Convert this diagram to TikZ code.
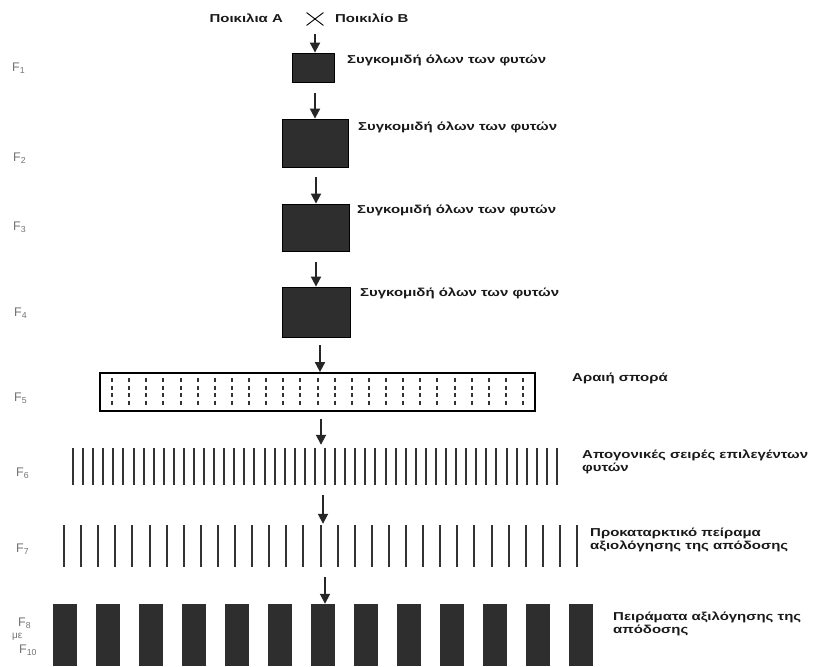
\documentclass[tikz,border=0pt]{standalone}
\usepackage{fontspec}
\setmainfont{Liberation Sans}
\newfontfamily\gkb[FakeStretch=1.3]{Liberation Sans}
\usetikzlibrary{arrows.meta,shapes.misc}
\tikzset{
  darkbox/.style={draw=black, fill=black!82, line width=0.8pt, inner sep=0pt},
  arr/.style={line width=1.8pt, draw=black!85, -{Triangle[length=10pt,width=10pt]}},
  lab/.style={font=\gkb\bfseries\fontsize{11.5}{13}\selectfont, anchor=west, inner sep=0pt, align=left, text=black!90},
  gen/.style={font=\fontsize{12.5}{13}\selectfont, text=black!55, anchor=west, inner sep=0pt},
  rowarea/.style={inner sep=0pt, draw=none},
  thinrow/.style={line width=2pt, draw=black!80},
  seedcol/.style={line width=2pt, draw=black!80, dash pattern=on 4pt off 3.5pt}
}
\begin{document}
\begin{tikzpicture}[x=1pt,y=-1pt]
\useasboundingbox (0,0) rectangle (813,666);

% parents
\node[lab, anchor=east] (pa) at (283,18) {Ποικιλια Α};
\node[draw, cross out, line width=0.9pt, minimum width=16pt, minimum height=12pt, inner sep=0pt] (cx) at (315,19) {};
\node[lab] (pb) at (335,18) {Ποικιλίο Β};

% boxes F1-F4
\node[darkbox, minimum width=42pt, minimum height=29pt] (b1) at (313,67.5) {};
\node[darkbox, minimum width=66pt, minimum height=48pt] (b2) at (315,143) {};
\node[darkbox, minimum width=67pt, minimum height=47pt] (b3) at (316,227.5) {};
\node[darkbox, minimum width=68pt, minimum height=50pt] (b4) at (316,312) {};

% F5 box
\node[draw=black, line width=1.8pt, minimum width=435pt, minimum height=38pt, inner sep=0pt] (b5) at (317.5,392) {};
\foreach \i in {0,...,24} \draw[seedcol] ({112+17.125*\i},378) -- ++(0,29);

% F6 row
\node[rowarea, minimum width=484pt, minimum height=37pt] (r6) at (315,466.5) {};
\foreach \i in {0,...,48} \draw[thinrow] ({73+10.083*\i},448) -- ++(0,37);

% F7 row
\node[rowarea, minimum width=514pt, minimum height=42pt] (r7) at (321,546) {};
\foreach \i in {0,...,30} \draw[thinrow] ({64+17.1*\i},525) -- ++(0,42);

% F8 row
\node[rowarea, minimum width=540pt, minimum height=62pt] (r8) at (323,635) {};
\foreach \i in {0,...,12} \fill[black!82] ({53+43*\i},604) rectangle ++(24,62);

% arrows
\draw[arr, shorten <=9pt] (cx.south) -- (cx.south |- b1.north);
\draw[arr, shorten <=11pt] (b2.north |- b1.south) -- (b2.north);
\draw[arr, shorten <=10pt] (b3.north |- b2.south) -- (b3.north);
\draw[arr, shorten <=11pt] (b4.north |- b3.south) -- (b4.north);
\draw[arr, shorten <=8pt] ([xshift=4pt]b4.south) -- ([xshift=2.5pt]b5.north);
\draw[arr, shorten <=7pt, shorten >=3pt] ([xshift=3.5pt]b5.south) -- ([xshift=6pt]r6.north);
\draw[arr, shorten <=10pt, shorten >=1pt] ([xshift=8pt]r6.south) -- ([xshift=2pt]r7.north);
\draw[arr, shorten <=10pt] ([xshift=4pt]r7.south) -- ([xshift=2pt]r8.north);

% texts
\node[lab] (t1) at (347,60) {Συγκομιδή όλων των φυτών};
\node[lab] (t2) at (358,127) {Συγκομιδή όλων των φυτών};
\node[lab] (t3) at (357,210) {Συγκομιδή όλων των φυτών};
\node[lab] (t4) at (360,293) {Συγκομιδή όλων των φυτών};
\node[lab] (t5) at (572,378) {Αραιή σπορά};
\node[lab] (t6) at (582,461.5) {Απογονικές σειρές επιλεγέντων\\φυτών};
\node[lab] (t7) at (590,540) {Προκαταρκτικό πείραμα\\αξιολόγησης της απόδοσης};
\node[lab] (t8) at (613,623.5) {Πειράματα αξιλόγησης της\\απόδοσης};

% generation labels
\node[gen] (g1) at (12,68) {F\textsubscript{1}};
\node[gen] (g2) at (13,158) {F\textsubscript{2}};
\node[gen] (g3) at (13,227) {F\textsubscript{3}};
\node[gen] (g4) at (14,313) {F\textsubscript{4}};
\node[gen] (g5) at (14,398) {F\textsubscript{5}};
\node[gen] (g6) at (16,473) {F\textsubscript{6}};
\node[gen] (g7) at (16,549) {F\textsubscript{7}};
\node[gen] (g8) at (18,623) {F\textsubscript{8}};
\node[gen, font=\fontsize{10}{10}\selectfont] (g9) at (12,637) {με};
\node[gen] (g10) at (19,650) {F\textsubscript{10}};
\end{tikzpicture}
\end{document}
